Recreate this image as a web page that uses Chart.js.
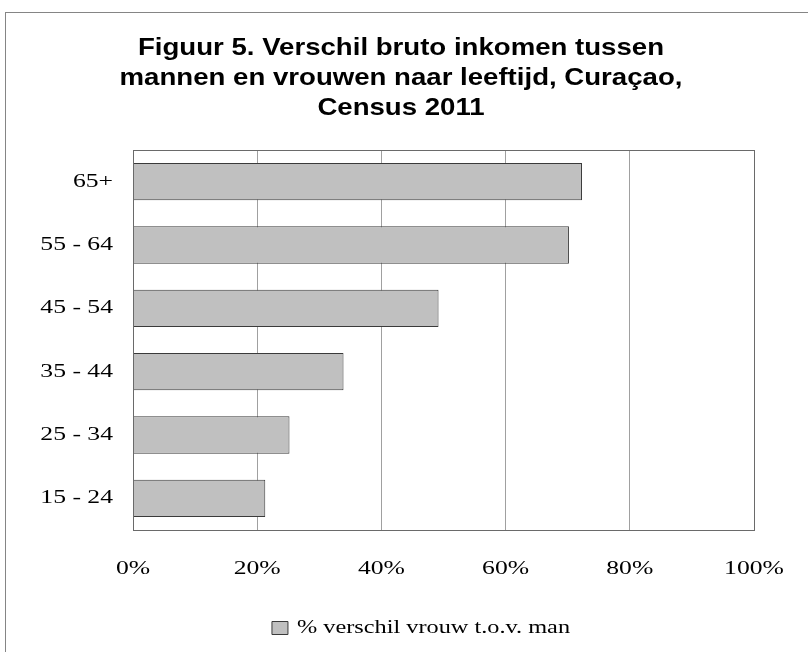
<!DOCTYPE html>
<html lang="nl">
<head>
    <meta charset="UTF-8">
    <title>Figuur 5 - Verschil bruto inkomen</title>
    <script src="https://cdn.jsdelivr.net/npm/chart.js@4.4.0/dist/chart.umd.min.js"></script>
    <style>
        body { margin: 0; background: #ffffff; }
        #wrap { position: relative; width: 808px; height: 652px; overflow: hidden; }
        /* outer chart frame (only left and top edges are visible in the picture) */
        #frame {
            position: absolute; left: 5px; top: 12px; width: 820px; height: 700px;
            border: 1px solid #858585; box-sizing: border-box;
        }
        canvas { position: absolute; left: 0; top: 0; }
    </style>
</head>
<body>
<div id="wrap">
    <div id="frame"></div>
    <canvas id="chart" width="808" height="652"></canvas>
</div>
<script>
    // data
    const ageGroups = ['65+', '55 - 64', '45 - 54', '35 - 44', '25 - 34', '15 - 24'];
    const pctDifference = [72.3, 70.2, 49.2, 33.9, 25.2, 21.3];
    const seriesName = '% verschil vrouw t.o.v. man';
    const titleLines = ['Figuur 5. Verschil bruto inkomen tussen', 'mannen en vrouwen naar leeftijd, Curaçao,', 'Census 2011'];

    const serif = "'Liberation Serif', 'Times New Roman', serif";
    const sans = "'Liberation Sans', Arial, sans-serif";

    // the source picture is stretched sideways, so text is drawn a bit wider
    const ctx = document.getElementById('chart').getContext('2d');
    const baseFill = ctx.fillText.bind(ctx);
    const baseMeasure = ctx.measureText.bind(ctx);
    const stretch = font => /Liberation Serif/.test(font) ? 1.35 : 1.15;
    ctx.fillText = function (text, x, y) {
        const sx = stretch(this.font);
        this.save();
        this.translate(x, y);
        this.scale(sx, 1);
        baseFill(text, 0, 0);
        this.restore();
    };
    ctx.measureText = function (text) {
        const m = baseMeasure(text);
        return {
            width: m.width * stretch(this.font),
            actualBoundingBoxAscent: m.actualBoundingBoxAscent,
            actualBoundingBoxDescent: m.actualBoundingBoxDescent
        };
    };

    const plotBorder = {
        id: 'plotBorder',
        afterLayout(chart) {
            // title and legend are not centred on the canvas in the original
            chart.titleBlock.left += 19;
            chart.titleBlock.right += 19;
            chart.legend.left += 39;
            chart.legend.right += 39;
        },
        // box round the plot area (top and right edges)
        afterDraw(chart) {
            const a = chart.chartArea, c = chart.ctx;
            c.save();
            c.strokeStyle = '#6a6a6a';
            c.lineWidth = 1;
            c.strokeRect(Math.round(a.left) + 0.5, Math.round(a.top) + 0.5,
                Math.round(a.right - a.left), Math.round(a.bottom - a.top));
            c.restore();
        }
    };

    new Chart(ctx, {
        type: 'bar',
        data: {
            labels: ageGroups,
            datasets: [{
                label: seriesName,
                data: pctDifference,
                backgroundColor: '#c0c0c0',
                borderColor: '#3a3a3a',
                borderWidth: 1,
                barPercentage: 0.59,
                categoryPercentage: 1
            }]
        },
        options: {
            indexAxis: 'y',
            responsive: false,
            animation: false,
            layout: { padding: { top: 20, left: 10, right: 54, bottom: 5 } },
            plugins: {
                title: {
                    display: true,
                    text: titleLines,
                    color: '#000',
                    font: { family: sans, size: 24, weight: 'bold', lineHeight: 1.25 },
                    padding: { top: 13, bottom: 27 }
                },
                legend: {
                    position: 'bottom',
                    labels: {
                        color: '#000',
                        boxWidth: 16,
                        boxHeight: 13,
                        padding: 10,
                        font: { family: serif, size: 18 }
                    }
                },
                tooltip: { enabled: false }
            },
            scales: {
                x: {
                    min: 0,
                    max: 100,
                    ticks: {
                        stepSize: 20,
                        padding: 28,
                        color: '#000',
                        font: { family: serif, size: 19 },
                        callback: v => v + '%'
                    },
                    grid: { color: '#a0a0a0', drawTicks: false },
                    border: { display: false },
                    afterFit(scale) {
                        scale.height = 79;
                        scale.paddingLeft = 0;
                        scale.paddingRight = 0;
                    }
                },
                y: {
                    ticks: {
                        padding: 20,
                        color: '#000',
                        font: { family: serif, size: 19 }
                    },
                    grid: { display: false, drawTicks: false },
                    border: { color: '#8a8a8a' },
                    afterFit(scale) { scale.width = 123; }
                }
            }
        },
        plugins: [plotBorder]
    });
</script>
</body>
</html>
